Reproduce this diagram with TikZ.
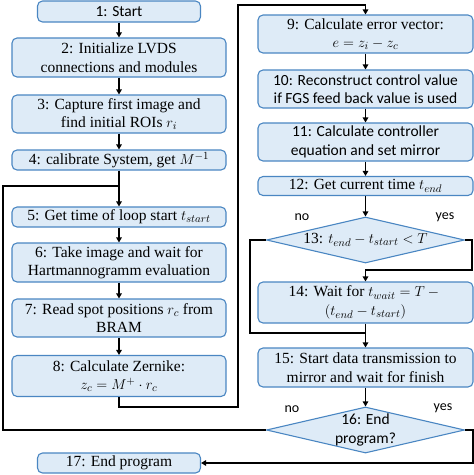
\documentclass[tikz,border=0pt]{standalone}
\usepackage{fontspec}
\setmainfont{Liberation Serif}
\newfontfamily\timesfont{Liberation Serif}
\newfontfamily\calibrifont{Carlito}
\usetikzlibrary{shapes.geometric,arrows.meta}
\definecolor{boxfill}{HTML}{DEEBF7}
\definecolor{boxdraw}{HTML}{4A86C2}
\newcommand{\txtsize}{\fontsize{15.5}{18.5}\selectfont}
\tikzset{
  stepbox/.style={draw=boxdraw, line width=1.1pt, fill=boxfill, rounded corners=5pt, align=center, inner sep=0pt, font=\timesfont\txtsize},
  calbox/.style={stepbox, font=\calibrifont\txtsize},
  decbox/.style={draw=boxdraw, line width=1.1pt, fill=boxfill, shape=diamond, aspect=4.3, inner sep=0pt, align=center, font=\timesfont\txtsize},
  conn/.style={line width=1.6pt, draw=black},
  arr/.style={conn, -{Triangle[length=5pt,width=5.5pt]}},
  lbl/.style={font=\calibrifont\fontsize{14}{16}\selectfont, inner sep=0pt}
}
\begin{document}
\begin{tikzpicture}[x=1pt,y=-1pt]
\useasboundingbox (0,0) rectangle (474,475);
% left column
\node[calbox, minimum width=163pt, minimum height=21pt] (b1) at (119,11.5) {1: Start};
\node[stepbox, minimum width=214pt, minimum height=39pt] (b2) at (119,57.5) {2: Initialize LVDS\\connections and modules};
\node[stepbox, minimum width=214pt, minimum height=38pt] (b3) at (119,114) {3: Capture first image and\\find initial ROIs $r_i$};
\node[stepbox, minimum width=214pt, minimum height=20pt] (b4) at (119,160) {4: calibrate System, get $M^{-1}$};
\node[stepbox, minimum width=214pt, minimum height=20pt] (b5) at (119,217) {5: Get time of loop start $t_{start}$};
\node[stepbox, minimum width=214pt, minimum height=39pt] (b6) at (119,262.5) {6: Take image and wait for\\Hartmannogramm evaluation};
\node[stepbox, minimum width=214pt, minimum height=38pt] (b7) at (119,318) {7: Read spot positions $r_c$ from\\BRAM};
\node[stepbox, minimum width=214pt, minimum height=41pt] (b8) at (119,376) {8: Calculate Zernike:\\$z_c = M^{+}\cdot r_c$};
\node[stepbox, minimum width=163pt, minimum height=20pt] (b17) at (119,463) {17: End program};
% right column
\node[stepbox, minimum width=215pt, minimum height=38pt] (b9) at (365.5,34) {9: Calculate error vector:\\$e = z_i - z_c$};
\node[calbox, minimum width=215pt, minimum height=38pt] (b10) at (365.5,89) {10: Reconstruct control value\\if FGS feed back value is used};
\node[calbox, minimum width=215pt, minimum height=38pt] (b11) at (365.5,142) {11: Calculate controller\\equation and set mirror};
\node[stepbox, minimum width=215pt, minimum height=19pt] (b12) at (365.5,186) {12: Get current time $t_{end}$};
\node[decbox, minimum width=198pt, minimum height=46pt] (d13) at (365.5,240) {13: $t_{end} - t_{start} < T$};
\node[stepbox, minimum width=215pt, minimum height=41pt] (b14) at (365.5,302.5) {14: Wait for $t_{wait} = T -{}$\\$(t_{end} - t_{start})$};
\node[stepbox, minimum width=215pt, minimum height=39pt] (b15) at (365.5,367.5) {15: Start data transmission to\\mirror and wait for finish};
\node[decbox, minimum width=198pt, minimum height=46pt, font=\calibrifont\txtsize] (d16) at (365.5,430) {16: End\\program?};
% labels
\node[lbl] (n13) at (302,217) {no};
\node[lbl] (y13) at (445,217) {yes};
\node[lbl] (n16) at (292,409) {no};
\node[lbl] (y16) at (443,408) {yes};
% coordinates
\coordinate (j5) at (119,186);
\coordinate (j15) at (365.5,333);
% connectors
\draw[arr] (b1) -- (b2);
\draw[arr] (b2) -- (b3);
\draw[arr] (b3) -- (b4);
\draw[conn] (b4.south) -- (j5);
\draw[arr] (j5) -- (b5.north);
\draw[arr] (b5) -- (b6);
\draw[arr] (b6) -- (b7);
\draw[arr] (b7) -- (b8);
\draw[arr] (b8.south) -- (119,407) -- (238,407) -- (238,5) -- (365.5,5) -- (b9.north);
\draw[arr] (b9) -- (b10);
\draw[arr] (b10) -- (b11);
\draw[arr] (b11) -- (b12);
\draw[arr] (b12) -- (d13);
\draw[arr] (d13.east) -- (472,240) -- (472,270) -- (365.5,270) -- (b14.north);
\draw[conn] (d13.west) -- (250,240) -- (250,333) -- (j15);
\draw[conn] (b14.south) -- (j15);
\draw[arr] (j15) -- (b15.north);
\draw[arr] (b15) -- (d16);
\draw[conn] (d16.west) -- (3,430) -- (3,186) -- (j5);
\draw[arr] (d16.east) -- (473,430) -- (473,463) -- (b17.east);
\end{tikzpicture}
\end{document}
